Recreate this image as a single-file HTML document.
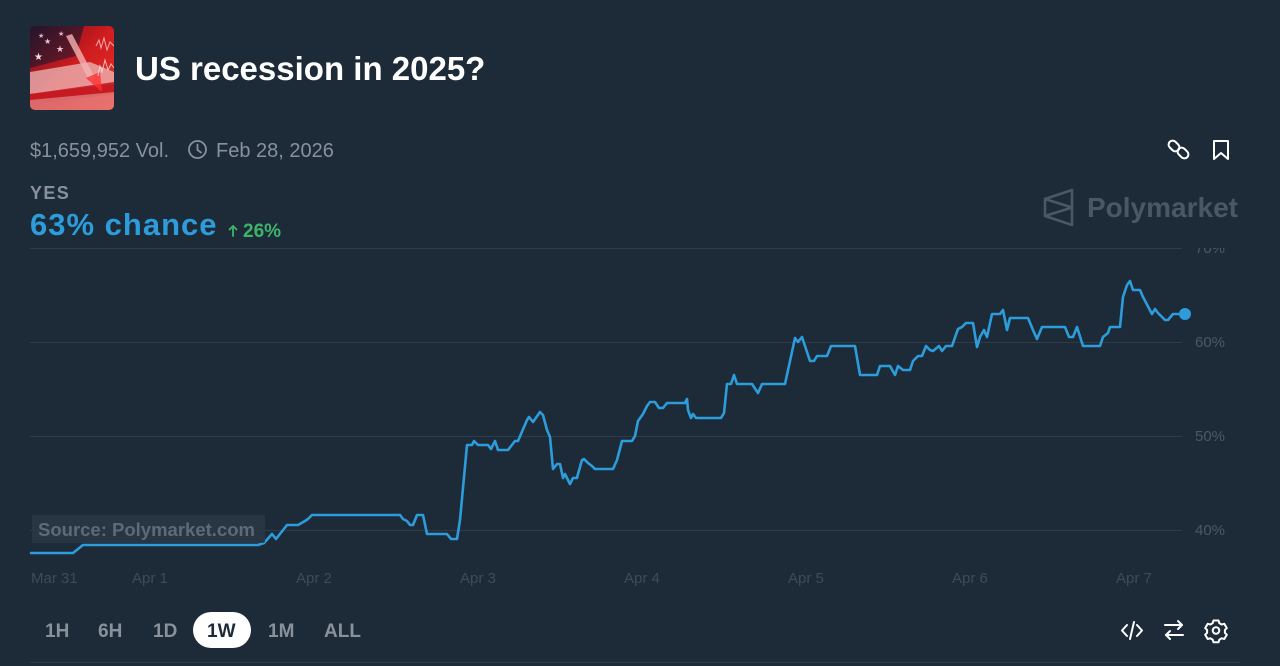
<!DOCTYPE html>
<html>
<head>
<meta charset="utf-8">
<style>
  html,body{margin:0;padding:0;background:#1d2b39;}
  body{width:1280px;height:666px;overflow:hidden;}
  svg{display:block;}
  text{font-family:"Liberation Sans", Arial, sans-serif;}
</style>
</head>
<body>
<svg width="1280" height="666" viewBox="0 0 1280 666" xmlns="http://www.w3.org/2000/svg">
  <defs>
    <clipPath id="thumb"><rect x="30" y="26" width="84" height="84" rx="5"/></clipPath>
    <clipPath id="topclip"><rect x="0" y="248" width="1280" height="420"/></clipPath>
    <linearGradient id="redg" x1="0" y1="0" x2="1" y2="1">
      <stop offset="0" stop-color="#6a1020"/>
      <stop offset="0.5" stop-color="#d01c1e"/>
      <stop offset="1" stop-color="#e8322a"/>
    </linearGradient>
    <linearGradient id="canton" x1="0" y1="0" x2="1" y2="1">
      <stop offset="0" stop-color="#24142a"/>
      <stop offset="1" stop-color="#5a1828" stop-opacity="0.7"/>
    </linearGradient>
  </defs>

  <rect width="1280" height="666" fill="#1d2b39"/>

  <!-- thumbnail -->
  <g clip-path="url(#thumb)">
    <rect x="30" y="26" width="84" height="84" fill="url(#redg)"/>
    <polygon points="30,26 84,26 76,56 30,68" fill="url(#canton)"/>
    <polygon points="30,72 90,62 114,72 114,84 30,94" fill="#f0c4c4" opacity="0.7"/>
    <polygon points="30,94 114,82 114,94 30,104" fill="#c41a22" opacity="0.9"/>
    <polygon points="30,100 114,92 114,110 30,110" fill="#e9a8a8" opacity="0.55"/>
    <polygon points="66,36 72,34 96,80 90,82" fill="#f3b3b3" opacity="0.8"/>
    <polygon points="86,78 100,72 102,92" fill="#ff3030" opacity="0.8"/>
    <text x="34" y="60" font-size="10" fill="#f0dde0">★</text>
    <text x="44" y="44" font-size="8" fill="#e8c8d0">★</text>
    <text x="56" y="52" font-size="9" fill="#e8c8d0">★</text>
    <text x="38" y="38" font-size="7" fill="#e0b0c0">★</text>
    <text x="58" y="36" font-size="7" fill="#e0b0c0">★</text>
    <polyline points="96,46 99,40 101,48 104,38 107,50 110,42 114,46" fill="none" stroke="#ffd0d0" stroke-width="1" opacity="0.8"/>
    <polyline points="98,76 100,66 102,72 105,60 108,70 111,64 114,68" fill="none" stroke="#ffe0e0" stroke-width="1" opacity="0.8"/>
  </g>

  <!-- title -->
  <text x="135" y="80" font-size="33" font-weight="bold" fill="#ffffff">US recession in 2025?</text>

  <!-- meta -->
  <text x="30" y="157" font-size="20" fill="#88919b">$1,659,952 Vol.</text>
  <circle cx="197.5" cy="149.5" r="8.5" fill="none" stroke="#88919b" stroke-width="1.8"/>
  <polyline points="197.5,144.5 197.5,150 201,152.5" fill="none" stroke="#88919b" stroke-width="1.8" stroke-linecap="round"/>
  <text x="216" y="157" font-size="20" fill="#88919b">Feb 28, 2026</text>

  <!-- link icon -->
  <g fill="none" stroke="#ffffff" stroke-width="2" stroke-linecap="round">
    <rect x="1168" y="142" width="12" height="8" rx="4" transform="rotate(45 1174 146)"/>
    <rect x="1177" y="149" width="12" height="8" rx="4" transform="rotate(45 1183 153)"/>
  </g>
  <!-- bookmark -->
  <path d="M1214 141 H1228 V159 L1221 153 L1214 159 Z" fill="none" stroke="#ffffff" stroke-width="2" stroke-linejoin="round"/>

  <!-- YES -->
  <text x="30" y="199" font-size="18" font-weight="bold" fill="#88919b" letter-spacing="1.4">YES</text>
  <text x="30" y="235" font-size="31" font-weight="bold" fill="#2d9cdb" letter-spacing="1">63% chance</text>
  <g stroke="#3db468" stroke-width="1.8" fill="none" stroke-linecap="round" stroke-linejoin="round">
    <line x1="233" y1="236" x2="233" y2="226"/>
    <polyline points="229.5,229.5 233,226 236.5,229.5"/>
  </g>
  <text x="243" y="237" font-size="19" font-weight="bold" fill="#3db468">26%</text>

  <!-- Polymarket logo -->
  <g fill="none" stroke="#4a5764" stroke-width="2.6" stroke-linejoin="round">
    <polygon points="1045,199 1072,190 1072,225 1045,216"/>
    <polyline points="1045,199 1072,207.5 1045,216"/>
  </g>
  <text x="1087" y="217" font-size="28" font-weight="bold" fill="#4a5764">Polymarket</text>

  <!-- gridlines -->
  <g stroke="#2e3c4a" stroke-width="1">
    <line x1="30" y1="248.5" x2="1182" y2="248.5"/>
    <line x1="30" y1="342.5" x2="1182" y2="342.5"/>
    <line x1="30" y1="436.5" x2="1182" y2="436.5"/>
    <line x1="30" y1="530.5" x2="1182" y2="530.5"/>
  </g>

  <!-- y labels -->
  <g font-size="15" fill="#4b5866">
    <text x="1195" y="253" clip-path="url(#topclip)">70%</text>
    <text x="1195" y="347">60%</text>
    <text x="1195" y="441">50%</text>
    <text x="1195" y="535">40%</text>
  </g>

  <!-- x labels -->
  <g font-size="15" fill="#3e4c5a">
    <text x="31" y="583">Mar 31</text>
    <text x="132" y="583">Apr 1</text>
    <text x="296" y="583">Apr 2</text>
    <text x="460" y="583">Apr 3</text>
    <text x="624" y="583">Apr 4</text>
    <text x="788" y="583">Apr 5</text>
    <text x="952" y="583">Apr 6</text>
    <text x="1116" y="583">Apr 7</text>
  </g>

  <!-- series -->
  <polyline fill="none" stroke="#2d9cdb" stroke-width="2.6" stroke-linejoin="round" stroke-linecap="round"
    points="31,553 73,553 83,545 258,545 264,543 272,534 276,539 287,525 298,525 305,521 308,519 312,515 400,515 403,519 407,521 410,525 413,525 417,515 423,515 427,534 447,534 451,539 457,539 460,520 467,445 472,445 474,441 478,445 488,445 491,449 495,441 498,450 508,450 515,441 518,441 527,420 529,417 533,422 540,412 543,415 547,430 550,437 553,469 557,464 560,464 563,478 565,474 570,484 573,478 577,478 578,474 582,460 584,459 588,463 592,466 595,469 613,469 617,460 622,441 632,441 635,436 638,421 643,414 647,406 650,402 655,402 659,408 663,408 667,403 685,403 687,399 688,410 691,418 693,414 696,418 721,418 724,413 727,384 731,384 734,375 737,384 752,384 758,393 762,384 785,384 795,338 798,342 802,337 810,361 814,361 817,356 827,356 831,346 855,346 860,375 877,375 880,366 890,366 895,375 898,366 903,370 910,370 913,361 918,356 922,356 926,346 930,350 933,351 939,346 942,351 946,346 952,346 958,329 962,327 966,323 973,323 977,347 980,337 984,330 987,337 992,314 1000,314 1003,310 1007,330 1010,318 1028,318 1033,330 1037,339 1042,327 1065,327 1069,337 1073,337 1077,327 1083,346 1100,346 1103,337 1108,333 1110,327 1120,327 1123,297 1127,285 1130,281 1133,290 1140,290 1143,297 1152,314 1155,309 1158,313 1165,320 1168,320 1173,314 1185,314"/>
  <circle cx="1185" cy="314" r="6" fill="#2d9cdb"/>

  <!-- source box -->
  <rect x="32" y="515" width="233" height="28" rx="2" fill="#2a3846" fill-opacity="0.85"/>
  <text x="38" y="536" font-size="18.5" font-weight="bold" fill="#5d6a77">Source: Polymarket.com</text>

  <!-- range buttons -->
  <rect x="193" y="612" width="58" height="36" rx="18" fill="#ffffff"/>
  <g font-size="19" font-weight="bold" fill="#89929b">
    <text x="45" y="637">1H</text>
    <text x="98" y="637">6H</text>
    <text x="153" y="637">1D</text>
    <text x="207" y="637" fill="#1d2b39">1W</text>
    <text x="268" y="637">1M</text>
    <text x="324" y="637">ALL</text>
  </g>

  <!-- right icons -->
  <g fill="none" stroke="#ffffff" stroke-width="2" stroke-linecap="round" stroke-linejoin="round">
    <polyline points="1127,625 1122,630.5 1127,636"/>
    <polyline points="1137,625 1142,630.5 1137,636"/>
    <line x1="1134" y1="622" x2="1130" y2="639"/>
    <line x1="1165" y1="625" x2="1182" y2="625"/>
    <polyline points="1178,621 1182,625 1178,629"/>
    <line x1="1183" y1="635" x2="1166" y2="635"/>
    <polyline points="1170,631 1166,635 1170,639"/>
    <path d="M1213.5 620.5 h5 l0.8 2.6 l2.4 1.4 l2.6 -0.7 l2.5 4.3 l-1.9 1.9 v2.8 l1.9 1.9 l-2.5 4.3 l-2.6 -0.7 l-2.4 1.4 l-0.8 2.6 h-5 l-0.8 -2.6 l-2.4 -1.4 l-2.6 0.7 l-2.5 -4.3 l1.9 -1.9 v-2.8 l-1.9 -1.9 l2.5 -4.3 l2.6 0.7 l2.4 -1.4 z"/>
    <circle cx="1216" cy="630.5" r="3.3"/>
  </g>

  <!-- bottom divider -->
  <line x1="30" y1="662.5" x2="1240" y2="662.5" stroke="#2d3b49" stroke-width="1"/>
</svg>
</body>
</html>
